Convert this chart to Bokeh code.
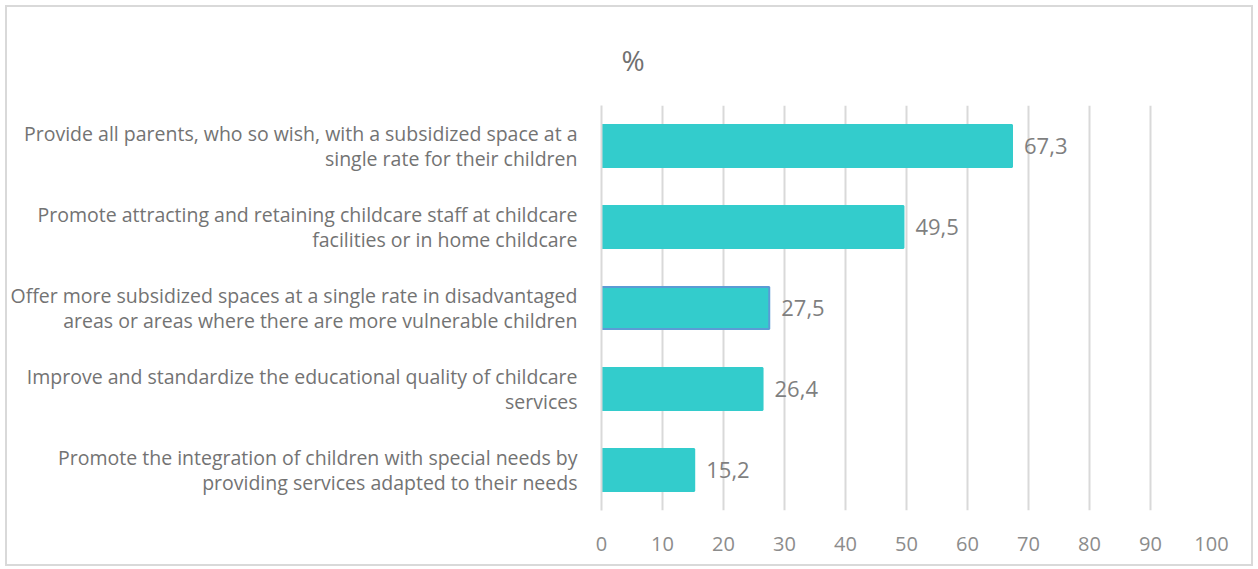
from bokeh.plotting import figure
from bokeh.models import ColumnDataSource, FixedTicker, Range1d
from bokeh.embed import file_html
from bokeh.resources import INLINE
from bokeh.core.properties import value

categories = [
    "Provide all parents, who so wish, with a subsidized space at a\nsingle rate for their children",
    "Promote attracting and retaining childcare staff at childcare\nfacilities or in home childcare",
    "Offer more subsidized spaces at a single rate in disadvantaged\nareas or areas where there are more vulnerable children",
    "Improve and standardize the educational quality of childcare\nservices",
    "Promote the integration of children with special needs by\nproviding services adapted to their needs",
]
values = [67.3, 49.5, 27.5, 26.4, 15.2]
x_ticks = [0, 10, 20, 30, 40, 50, 60, 70, 80, 90, 100]
title_text = "%"

n = len(categories)
ypos = list(range(n - 1, -1, -1))
labels = [f"{v:.1f}".replace(".", ",") for v in values]
outline = ["#33CCCC"] * n
outline[2] = "#5B9BD5"

src = ColumnDataSource(dict(y=ypos, v=values, lab=labels, lc=outline))

FONT = "Open Sans"
p = figure(width=1248, height=561, output_backend="svg", toolbar_location=None,
           x_range=Range1d(0, 100), y_range=Range1d(-0.5, n - 0.5),
           min_border_left=580, min_border_right=44, min_border_top=98, min_border_bottom=58,
           title=title_text)
p.styles = {"border": "2px solid #d9d9d9", "margin-left": "5px", "margin-top": "5px"}
p.outline_line_color = None
p.background_fill_color = "white"

p.title.align = "left"
p.title.vertical_align = "top"
p.title.offset = 20
p.title.standoff = 50
p.title.text_font = FONT
p.title.text_font_size = "28px"
p.title.text_font_style = "normal"
p.title.text_color = "#707070"

p.hbar(y="y", right="v", left=0, height=0.52, source=src,
       fill_color="#33CCCC", line_color="lc", line_width=2)
p.text(x="v", y="y", text="lab", source=src, x_offset=12, text_baseline="middle",
       text_align="left", text_font=value(FONT), text_font_size="22px", text_color="#7f7f7f")

p.xaxis.ticker = FixedTicker(ticks=x_ticks)
p.xaxis.axis_line_color = None
p.xaxis.major_tick_line_color = None
p.xaxis.minor_tick_line_color = None
p.xaxis.major_label_text_font = FONT
p.xaxis.major_label_text_font_size = "20px"
p.xaxis.major_label_text_color = "#8c8c8c"
p.xaxis.major_label_standoff = 20

p.yaxis.ticker = FixedTicker(ticks=ypos)
p.yaxis.major_label_overrides = {y: c for y, c in zip(ypos, categories)}
p.yaxis.axis_line_color = "#d9d9d9"
p.yaxis.axis_line_width = 2
p.yaxis.major_tick_line_color = None
p.yaxis.minor_tick_line_color = None
p.yaxis.major_label_text_font = FONT
p.yaxis.major_label_text_font_size = "19.5px"
p.yaxis.major_label_text_color = "#737373"
p.yaxis.major_label_text_line_height = 0.95
p.yaxis.major_label_standoff = 18

p.xgrid.grid_line_color = "#d9d9d9"
p.xgrid.grid_line_width = 2
p.ygrid.grid_line_color = None

open("out.html", "w").write(file_html(p, INLINE))
